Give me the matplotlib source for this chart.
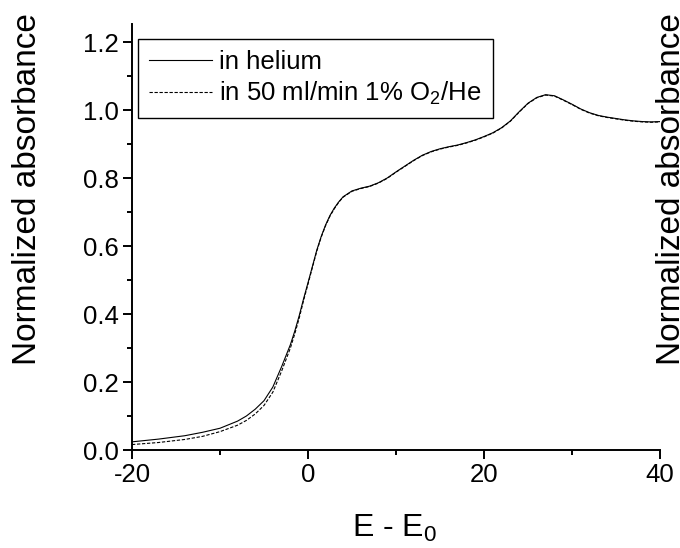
import matplotlib
matplotlib.use("Agg")
import matplotlib.pyplot as plt
from matplotlib.ticker import MultipleLocator

plt.rcParams['font.family'] = ['Liberation Sans', 'DejaVu Sans']
plt.rcParams['mathtext.fontset'] = 'custom'
plt.rcParams['mathtext.rm'] = 'Liberation Sans'
plt.rcParams['mathtext.default'] = 'regular'

# Data
energy = [-20, -17, -14, -12, -10, -8, -7, -6, -5, -4, -3, -2, -1.5, -1, -0.5, 0, 0.5,
          1, 1.5, 2, 2.5, 3, 3.5, 4, 5, 6, 7, 8, 9, 10, 11, 12, 13, 14, 15, 16, 17,
          18, 19, 20, 21, 22, 23, 24, 25, 26, 27, 28, 29, 30, 31, 32, 33, 34, 35,
          36, 37, 38, 39, 40]
helium = [0.024, 0.032, 0.042, 0.052, 0.064, 0.085, 0.100, 0.120, 0.145, 0.185,
          0.245, 0.310, 0.350, 0.395, 0.445, 0.492, 0.540, 0.588, 0.628, 0.662,
          0.690, 0.712, 0.730, 0.745, 0.762, 0.770, 0.776, 0.786, 0.800, 0.818,
          0.835, 0.852, 0.867, 0.878, 0.886, 0.892, 0.897, 0.904, 0.912, 0.922,
          0.933, 0.948, 0.968, 0.995, 1.020, 1.037, 1.045, 1.042, 1.030, 1.017,
          1.003, 0.992, 0.984, 0.979, 0.975, 0.971, 0.968, 0.966, 0.965, 0.966]
oxygen = [0.016, 0.022, 0.031, 0.040, 0.054, 0.073, 0.087, 0.106, 0.131, 0.170,
          0.232, 0.300, 0.342, 0.388, 0.440, 0.488, 0.537, 0.585, 0.626, 0.660,
          0.688, 0.710, 0.729, 0.744, 0.761, 0.769, 0.775, 0.785, 0.799, 0.817,
          0.834, 0.851, 0.866, 0.877, 0.885, 0.891, 0.896, 0.903, 0.911, 0.921,
          0.932, 0.947, 0.967, 0.994, 1.019, 1.036, 1.044, 1.041, 1.029, 1.016,
          1.002, 0.991, 0.983, 0.978, 0.974, 0.970, 0.967, 0.965, 0.964, 0.965]
labels = ['in helium', 'in 50 ml/min 1% O$_2$/He']
x_ticks = [-20, 0, 20, 40]
y_ticks = [0.0, 0.2, 0.4, 0.6, 0.8, 1.0, 1.2]

W, H = 680, 548
fig = plt.figure(figsize=(6.8, 5.48), dpi=100)
ax = fig.add_axes([132 / W, (H - 450) / H, 528 / W, 426 / H])

ax.plot(energy, helium, color='black', lw=0.8, label=labels[0])
ax.plot(energy, oxygen, color='black', lw=0.8, ls=(0, (3, 1.5)), label=labels[1])

ax.set_xlim(-20, 40)
ax.set_ylim(0, 1.253)
ax.set_xticks(x_ticks)
ax.set_yticks(y_ticks)
ax.set_xticklabels([str(v) for v in x_ticks])
ax.set_yticklabels([f"{v:.1f}" for v in y_ticks])
ax.xaxis.set_minor_locator(MultipleLocator(10))
ax.yaxis.set_minor_locator(MultipleLocator(0.1))

for s in ['top', 'right']:
    ax.spines[s].set_visible(False)
for s in ['left', 'bottom']:
    ax.spines[s].set_linewidth(1.4)
ax.tick_params(which='major', direction='out', length=6.5, width=1.4,
               labelsize=18.5, pad=3)
ax.tick_params(which='minor', direction='out', length=3.6, width=1.4)

leg = ax.legend(loc='upper left', bbox_to_anchor=(6 / 528, (450 - 39) / 426),
                borderaxespad=0, fontsize=18.5, frameon=True, fancybox=False,
                edgecolor='black', framealpha=1, handlelength=2.45,
                handletextpad=0.3, borderpad=0.42, labelspacing=0.25)
leg.get_frame().set_linewidth(1.0)

fig.text(395 / W, 11 / H, 'E - E$_0$', fontsize=23, ha='center', va='baseline')
fig.text(27.5 / W, (H - 189) / H, 'Normalized absorbance', fontsize=24,
         rotation=90, ha='center', va='center')
fig.text(671.5 / W, (H - 189) / H, 'Normalized absorbance', fontsize=24,
         rotation=90, ha='center', va='center')

fig.savefig('out.png', dpi=100)
